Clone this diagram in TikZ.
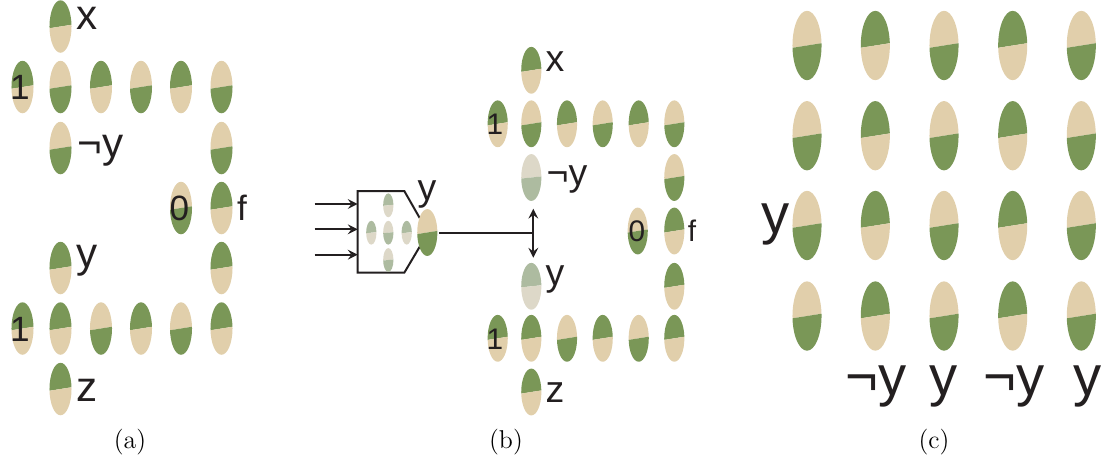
\documentclass[tikz,border=0pt]{standalone}
\usepackage{fontspec}
\setsansfont{Liberation Sans}
\usetikzlibrary{shapes.geometric}
\definecolor{leafgreen}{HTML}{7A9757}
\definecolor{leaftan}{HTML}{E1CFAB}
\definecolor{palegreen}{HTML}{ADBBA0}
\definecolor{paletan}{HTML}{DDD8C8}
\definecolor{inkblack}{HTML}{231F20}
\tikzset{
	leaf/.style n args={3}{ellipse, inner sep=0pt, outer sep=0pt, path picture={
		\fill[#1] (-60, {60*tan(#3)}) -- (60, {-60*tan(#3)}) -- (60, -80) -- (-60, -80) -- cycle;
		\fill[#2] (-60, {60*tan(#3)}) -- (60, {-60*tan(#3)}) -- (60, 80) -- (-60, 80) -- cycle;
	}},
	greentop/.style={leaf={leafgreen}{leaftan}{9}},
	tantop/.style={leaf={leaftan}{leafgreen}{9}},
	fadegreen/.style={leaf={palegreen}{paletan}{6}},
	fadetan/.style={leaf={paletan}{palegreen}{6}},
	sizea/.style={minimum width=9.4pt, minimum height=22.4pt},
	sizeb/.style={minimum width=8.6pt, minimum height=20pt},
	sizec/.style={minimum width=12.4pt, minimum height=29.6pt},
	sizes/.style={minimum width=4.4pt, minimum height=10.2pt},
	lab/.style={font=\sffamily, text=inkblack, anchor=base, inner sep=0pt},
	laba/.style={lab, font=\sffamily\fontsize{18}{18}\selectfont},
	labb/.style={lab, font=\sffamily\fontsize{16}{16}\selectfont},
	labc/.style={lab, font=\sffamily\fontsize{24}{24}\selectfont},
	digita/.style={lab, font=\sffamily\fontsize{15}{15}\selectfont},
	digitb/.style={lab, font=\sffamily\fontsize{12.7}{12.7}\selectfont},
	caption/.style={anchor=base, inner sep=0pt, font=\fontsize{11}{11}\selectfont},
	conn/.style={draw=inkblack, line width=0.85pt},
}
\begin{document}
\begin{tikzpicture}[x=0.015cm, y=-0.015cm, >=stealth]
	\useasboundingbox (0, 0) rectangle (1101, 461);

	% panel a
	\node[greentop, sizea] (ax) at (60.5, 26.5) {};
	\node[greentop, sizea] (aa1) at (22.5, 87) {};
	\node[tantop, sizea] (aa2) at (60.5, 87) {};
	\node[greentop, sizea] (aa3) at (101, 87) {};
	\node[tantop, sizea] (aa4) at (141, 87) {};
	\node[greentop, sizea] (aa5) at (181, 87) {};
	\node[tantop, sizea] (aa6) at (221.5, 87) {};
	\node[tantop, sizea] (any) at (60.5, 148) {};
	\node[tantop, sizea] (ar1) at (221.5, 148) {};
	\node[tantop, sizea] (azero) at (181, 208) {};
	\node[greentop, sizea] (af) at (221.5, 208) {};
	\node[greentop, sizea] (ay) at (60.5, 268) {};
	\node[greentop, sizea] (ar2) at (221.5, 268) {};
	\node[greentop, sizea] (ab1) at (22.5, 328.5) {};
	\node[greentop, sizea] (ab2) at (60.5, 328.5) {};
	\node[tantop, sizea] (ab3) at (101, 328.5) {};
	\node[greentop, sizea] (ab4) at (141, 328.5) {};
	\node[tantop, sizea] (ab5) at (181, 328.5) {};
	\node[greentop, sizea] (ab6) at (221.5, 328.5) {};
	\node[greentop, sizea] (az) at (60.5, 389) {};

	\node[laba] (axl) at (87.3, 29.3) {x};
	\node[laba] (anyl) at (100.5, 157) {¬y};
	\node[laba] (ayl) at (87.3, 267) {y};
	\node[laba] (azl) at (87.3, 401) {z};
	\node[digita] (aone1) at (20, 99.3) {1};
	\node[digita] (aone2) at (20, 341.7) {1};
	\node[digita] (azl0) at (179.5, 220) {0};
	\node[digita] (afl) at (242, 220) {f};
	\node[caption] (capa) at (130, 448) {(a)};

	% module between a and b
	\coordinate (mtl) at (357.7, 191);
	\coordinate (mtr) at (404.3, 191);
	\coordinate (mtd) at (419.7, 218);
	\coordinate (mbd) at (419.7, 246.7);
	\coordinate (mbr) at (404.3, 272.7);
	\coordinate (mbl) at (357.7, 272.7);
	\draw[conn] (mtd)--(mtr)--(mtl)--(mbl)--(mbr)--(mbd);

	\coordinate (in1) at (314.7, 204);
	\coordinate (in2) at (314.7, 229.3);
	\coordinate (in3) at (314.7, 254.7);
	\coordinate (out1) at (357.7, 204);
	\coordinate (out2) at (357.7, 229.3);
	\coordinate (out3) at (357.7, 254.7);
	\draw[conn, ->] (in1)--(out1);
	\draw[conn, ->] (in2)--(out2);
	\draw[conn, ->] (in3)--(out3);

	\node[fadegreen, sizes] (mtop) at (388.3, 205.3) {};
	\node[fadegreen, sizes] (mleft) at (371.3, 232.7) {};
	\node[fadetan, sizes] (mmid) at (388.3, 232.7) {};
	\node[fadegreen, sizes] (mright) at (406.7, 232.7) {};
	\node[fadetan, sizes] (mbot) at (388.3, 260) {};
	\node[tantop, sizeb] (mout) at (427.3, 232.5) {};
	\node[labb] (moutl) at (427, 200) {y};

	\coordinate (jn) at (533.3, 232.5);
	\coordinate (jup) at (533.3, 208.7);
	\coordinate (jdown) at (533.3, 257.7);
	\draw[conn, shorten <=0.8pt] (mout)--(jn);
	\draw[conn, <->] (jup)--(jdown);

	% panel b
	\node[greentop, sizeb] (bx) at (531.3, 70.3) {};
	\node[greentop, sizeb] (ba1) at (497.7, 123.8) {};
	\node[tantop, sizeb] (ba2) at (531.3, 123.8) {};
	\node[greentop, sizeb] (ba3) at (567, 123.8) {};
	\node[tantop, sizeb] (ba4) at (602.7, 123.8) {};
	\node[greentop, sizeb] (ba5) at (638.7, 123.8) {};
	\node[tantop, sizeb] (ba6) at (674.3, 123.8) {};
	\node[fadetan, sizeb] (bny) at (531.3, 177.5) {};
	\node[tantop, sizeb] (br1) at (674.3, 177.5) {};
	\node[tantop, sizeb] (bzero) at (637.7, 231) {};
	\node[greentop, sizeb] (bf) at (674.3, 231) {};
	\node[fadegreen, sizeb] (by) at (531.3, 286.3) {};
	\node[greentop, sizeb] (br2) at (674.3, 286.3) {};
	\node[greentop, sizeb] (bb1) at (497.7, 338.3) {};
	\node[greentop, sizeb] (bb2) at (531.3, 338.3) {};
	\node[tantop, sizeb] (bb3) at (567, 338.3) {};
	\node[greentop, sizeb] (bb4) at (602.7, 338.3) {};
	\node[tantop, sizeb] (bb5) at (638.7, 338.3) {};
	\node[greentop, sizeb] (bb6) at (674.3, 338.3) {};
	\node[greentop, sizeb] (bz) at (531.3, 392) {};

	\node[labb] (bxl) at (555, 71.7) {x};
	\node[labb] (bnyl) at (567, 185) {¬y};
	\node[labb] (byl) at (555, 285) {y};
	\node[labb] (bzl) at (555, 402) {z};
	\node[digitb] (bone1) at (495, 134) {1};
	\node[digitb] (bone2) at (495, 349) {1};
	\node[digitb] (bzl0) at (637, 241.7) {0};
	\node[digitb] (bfl) at (692, 241.7) {f};
	\node[caption] (capb) at (506, 448) {(b)};

	% panel c
	\node[tantop, sizec] (c11) at (807, 45.5) {};
	\node[greentop, sizec] (c12) at (875.3, 45.5) {};
	\node[tantop, sizec] (c13) at (944, 45.5) {};
	\node[greentop, sizec] (c14) at (1012.7, 45.5) {};
	\node[tantop, sizec] (c15) at (1081.3, 45.5) {};
	\node[tantop, sizec] (c21) at (807, 135.7) {};
	\node[greentop, sizec] (c22) at (875.3, 135.7) {};
	\node[tantop, sizec] (c23) at (944, 135.7) {};
	\node[greentop, sizec] (c24) at (1012.7, 135.7) {};
	\node[tantop, sizec] (c25) at (1081.3, 135.7) {};
	\node[tantop, sizec] (c31) at (807, 225.5) {};
	\node[greentop, sizec] (c32) at (875.3, 225.5) {};
	\node[tantop, sizec] (c33) at (944, 225.5) {};
	\node[greentop, sizec] (c34) at (1012.7, 225.5) {};
	\node[tantop, sizec] (c35) at (1081.3, 225.5) {};
	\node[tantop, sizec] (c41) at (807, 316) {};
	\node[greentop, sizec] (c42) at (875.3, 316) {};
	\node[tantop, sizec] (c43) at (944, 316) {};
	\node[greentop, sizec] (c44) at (1012.7, 316) {};
	\node[tantop, sizec] (c45) at (1081.3, 316) {};

	\node[labc] (cyl) at (776, 233.7) {y};
	\node[labc] (cb1) at (876, 395.6) {¬y};
	\node[labc] (cb2) at (943.8, 395.6) {y};
	\node[labc] (cb3) at (1014, 395.6) {¬y};
	\node[labc] (cb4) at (1087.8, 395.6) {y};
	\node[caption] (capc) at (934, 448) {(c)};
\end{tikzpicture}
\end{document}
